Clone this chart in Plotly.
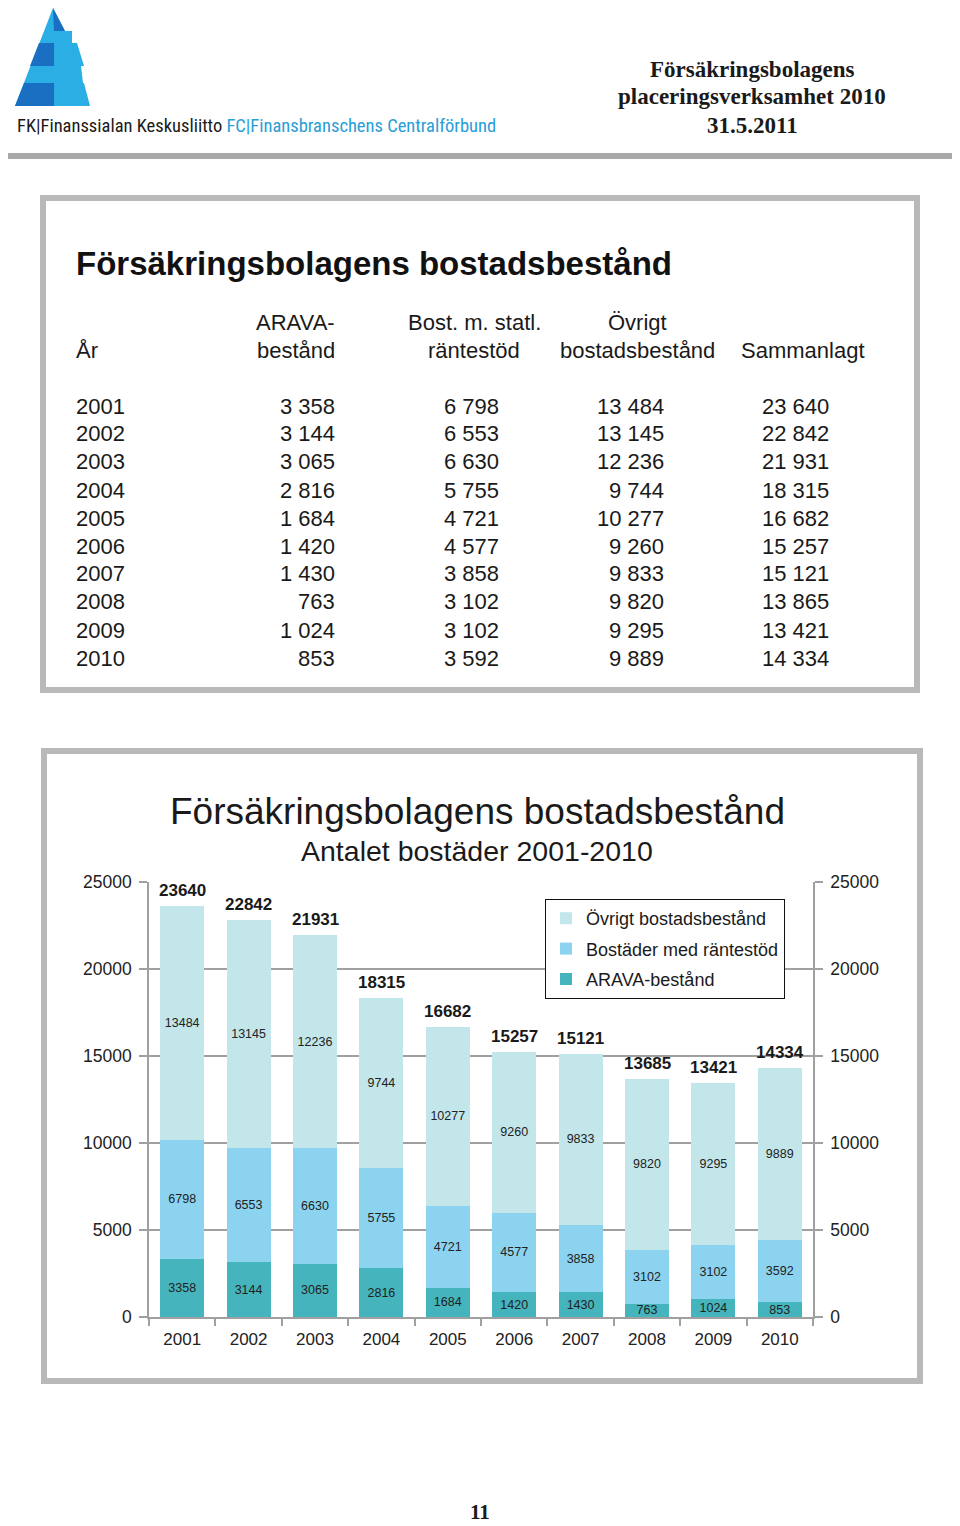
import plotly.graph_objects as go

# ---------------- data ----------------
years = ['2001', '2002', '2003', '2004', '2005', '2006', '2007', '2008', '2009', '2010']
arava = [3358, 3144, 3065, 2816, 1684, 1420, 1430, 763, 1024, 853]
rantestod = [6798, 6553, 6630, 5755, 4721, 4577, 3858, 3102, 3102, 3592]
ovrigt = [13484, 13145, 12236, 9744, 10277, 9260, 9833, 9820, 9295, 9889]
chart_totals = [23640, 22842, 21931, 18315, 16682, 15257, 15121, 13685, 13421, 14334]
table_totals = [23640, 22842, 21931, 18315, 16682, 15257, 15121, 13865, 13421, 14334]
y_ticks = [0, 5000, 10000, 15000, 20000, 25000]

OFF = 8  # page body margin
W, H = 960 - OFF, 1526 - OFF
SANS = "Liberation Sans, Arial, Helvetica, sans-serif"
SERIF = "Liberation Serif, Times New Roman, serif"
C_ARAVA = "#45B4BC"
C_RANTE = "#8CD3F0"
C_OVR = "#C3E6EA"


def X(px):
    return (px - OFF) / W


def Y(py):
    return 1 - (py - OFF) / H


def fmt(v):
    return f"{v:,}".replace(",", " ")


annotations = []
shapes = []


def text(x, y, t, size=22, color="#1a1a1a", family=SANS, xanchor="left", bold=False):
    if bold:
        t = f"<b>{t}</b>"
    annotations.append(dict(x=X(x), y=Y(y), xref="paper", yref="paper", text=t,
                            showarrow=False, xanchor=xanchor, yanchor="middle",
                            font=dict(size=size, color=color, family=family)))


# ---------------- logo ----------------
def poly(points, color):
    d = "M " + " L ".join(f"{X(px):.5f},{Y(py):.5f}" for px, py in points) + " Z"
    shapes.append(dict(type="path", path=d, xref="paper", yref="paper",
                       fillcolor=color, line=dict(width=0), layer="above"))


LOGO_L = "#2AAEE4"
LOGO_D = "#1B6FC2"
poly([(53, 8), (65, 31), (72, 31), (72, 43), (77, 43), (84, 66), (81, 66), (83, 83),
      (84, 83), (90, 106), (15, 106)], LOGO_L)
poly([(53, 8), (65, 31), (54, 31)], LOGO_D)
poly([(39, 43), (54, 43), (54, 66), (30, 66)], LOGO_D)
poly([(24, 83), (54, 83), (54, 106), (15, 106)], LOGO_D)

annotations.append(dict(
    x=X(15), y=Y(126), xref="paper", yref="paper", showarrow=False,
    xanchor="left", yanchor="middle",
    text="FK|Finanssialan Keskusliitto <span style='color:#2A9ED6'>FC|Finansbranschens Centralförbund</span>",
    font=dict(size=18.5, color="#1a1a1a", family="Liberation Sans Narrow, Arial Narrow, Roboto Condensed, Liberation Sans, sans-serif")))

# header right
text(752, 69, "Försäkringsbolagens", size=23, family=SERIF, xanchor="center", bold=True)
text(752, 97, "placeringsverksamhet 2010", size=23, family=SERIF, xanchor="center", bold=True)
text(752, 125, "31.5.2011", size=23, family=SERIF, xanchor="center", bold=True)

shapes.append(dict(type="rect", xref="paper", yref="paper", x0=X(8), x1=X(958), y0=Y(159), y1=Y(153),
                   fillcolor="#A8A8A8", line=dict(width=0)))

# ---------------- boxes ----------------
BOX = "#B9B9B9"
shapes.append(dict(type="rect", xref="paper", yref="paper", x0=X(43), x1=X(917), y0=Y(690), y1=Y(198),
                   line=dict(color=BOX, width=6), fillcolor="rgba(0,0,0,0)"))
shapes.append(dict(type="rect", xref="paper", yref="paper", x0=X(44), x1=X(920), y0=Y(1381), y1=Y(751),
                   line=dict(color=BOX, width=6), fillcolor="rgba(0,0,0,0)"))

# ---------------- table ----------------
text(74, 263, "Försäkringsbolagens bostadsbestånd", size=33, color="#111", bold=True)
text(74, 350, "År")
text(337, 322, "ARAVA-", xanchor="right")
text(337, 350, "bestånd", xanchor="right")
text(474, 322, "Bost. m. statl.", xanchor="center")
text(474, 350, "räntestöd", xanchor="center")
text(637, 322, "Övrigt", xanchor="center")
text(637, 350, "bostadsbestånd", xanchor="center")
text(803, 350, "Sammanlagt", xanchor="center")
for i, yr in enumerate(years):
    yy = 406 + i * 28
    text(74, yy, yr)
    text(337, yy, fmt(arava[i]), xanchor="right")
    text(501, yy, fmt(rantestod[i]), xanchor="right")
    text(666, yy, fmt(ovrigt[i]), xanchor="right")
    text(831, yy, fmt(table_totals[i]), xanchor="right")

# ---------------- chart titles ----------------
text(477, 811, "Försäkringsbolagens bostadsbestånd", size=37, xanchor="center")
text(477, 851, "Antalet bostäder 2001-2010", size=28.5, xanchor="center")

# page number
annotations.append(dict(x=X(480), y=0, xref="paper", yref="paper", text="<b>11</b>",
                        showarrow=False, xanchor="center", yanchor="bottom", yshift=0,
                        font=dict(size=21, color="#1a1a1a", family=SERIF)))

# totals above bars (category axis positions are category indices)
for i, tot in enumerate(chart_totals):
    annotations.append(dict(x=i, y=tot, xref="x", yref="y", text=f"<b>{tot}</b>",
                            showarrow=False, xanchor="center", yanchor="bottom", yshift=4,
                            font=dict(size=17, color="#1a1a1a", family=SANS)))

fig = go.Figure()
inside_font = dict(size=12.5, color="#222", family=SANS)
fig.add_trace(go.Bar(x=years, y=arava, name="ARAVA-bestånd", marker=dict(color=C_ARAVA, line=dict(width=0)),
                     text=[str(v) for v in arava], textposition="inside", insidetextanchor="middle",
                     textfont=inside_font, legendgroup="a", legendrank=3, hoverinfo="skip"))
fig.add_trace(go.Bar(x=years, y=rantestod, name="Bostäder med räntestöd", marker=dict(color=C_RANTE, line=dict(width=0)),
                     text=[str(v) for v in rantestod], textposition="inside", insidetextanchor="middle",
                     textfont=inside_font, legendgroup="b", legendrank=2, hoverinfo="skip"))
fig.add_trace(go.Bar(x=years, y=ovrigt, name="Övrigt bostadsbestånd", marker=dict(color=C_OVR, line=dict(width=0)),
                     text=[str(v) for v in ovrigt], textposition="inside", insidetextanchor="middle",
                     textfont=inside_font, legendgroup="c", legendrank=1, hoverinfo="skip"))
# invisible trace to carry the right-hand axis
fig.add_trace(go.Scatter(x=years, y=chart_totals, mode="markers", marker=dict(opacity=0),
                         showlegend=False, yaxis="y2", hoverinfo="skip"))

GRID = "#A0A0A0"
axis_font = dict(size=17.5, color="#222", family=SANS)
fig.update_layout(
    width=W, height=H, margin=dict(l=0, r=0, t=0, b=0, autoexpand=False),
    paper_bgcolor="white", plot_bgcolor="white",
    barmode="stack", bargap=0.337,
    uniformtext=dict(minsize=12.5, mode="show"),
    showlegend=True,
    legend=dict(x=X(545), y=Y(899), xanchor="left", yanchor="top",
                bordercolor="#111", borderwidth=1, bgcolor="white",
                font=dict(size=18, color="#1a1a1a", family=SANS),
                traceorder="grouped", tracegroupgap=4),
    xaxis=dict(domain=[X(149), X(813)], type="category", tickson="boundaries",
               range=[-0.5, len(years) - 0.5], tickangle=0,
               ticks="outside", ticklen=7, tickcolor=GRID, tickwidth=1.5,
               showline=True, linecolor=GRID, linewidth=1.5, showgrid=False, automargin=False,
               tickfont=dict(size=17, color="#222", family=SANS), ticklabelstandoff=6),
    yaxis=dict(domain=[Y(1317), Y(882)], range=[0, 25000], tickvals=y_ticks,
               ticktext=[str(v) for v in y_ticks], automargin=False,
               ticks="outside", ticklen=8, tickcolor=GRID, tickwidth=1.5,
               showline=True, linecolor=GRID, linewidth=1.5,
               showgrid=True, gridcolor=GRID, gridwidth=1.5, zeroline=False,
               tickfont=axis_font, ticklabelstandoff=4),
    yaxis2=dict(overlaying="y", side="right", range=[0, 25000], tickvals=y_ticks,
                ticktext=[str(v) for v in y_ticks], automargin=False,
                ticks="outside", ticklen=8, tickcolor=GRID, tickwidth=1.5,
                showline=True, linecolor=GRID, linewidth=1.5,
                showgrid=False, zeroline=False, tickfont=axis_font, ticklabelstandoff=4),
    annotations=annotations, shapes=shapes,
)

fig.write_html("out.html")
